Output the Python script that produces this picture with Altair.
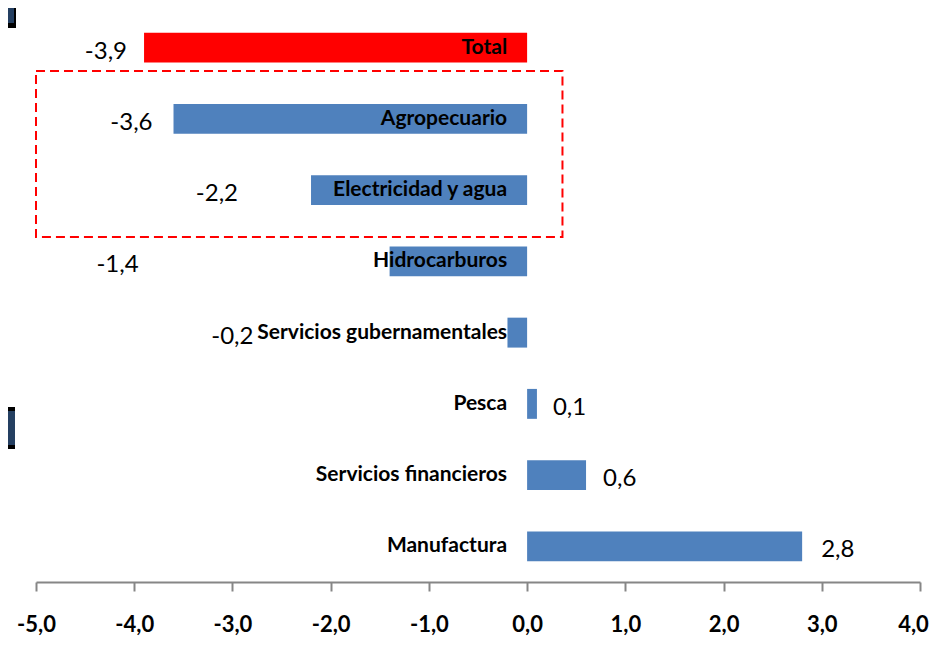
import altair as alt
import pandas as pd

# ---- data ----
categories = ["Total", "Agropecuario", "Electricidad y agua", "Hidrocarburos",
              "Servicios gubernamentales", "Pesca", "Servicios financieros", "Manufactura"]
values = [-3.9, -3.6, -2.2, -1.4, -0.2, 0.1, 0.6, 2.8]
value_labels = ["-3,9", "-3,6", "-2,2", "-1,4", "-0,2", "0,1", "0,6", "2,8"]
x_ticks = [-5, -4, -3, -2, -1, 0, 1, 2, 3, 4]

df = pd.DataFrame({"cat": categories, "value": values, "label": value_labels})
df["grp"] = ["total"] + ["sector"] * (len(categories) - 1)

# ---- styling ----
W, H = 884, 570
XMIN, XMAX = -5, 4
BLUE, RED = "#4F81BD", "#FF0000"
GRAY = "#868686"
CAT_FONT = "Lato, sans-serif"
VAL_FONT = "Lato, sans-serif"
# pixel nudges of the value labels (as placed in the original)
label_dx = [-17, -21, -73, -251, -254, 16, 17, 19]
label_dy = 4

step = H / len(categories)
yscale = alt.Scale(domain=categories, paddingInner=0.58, paddingOuter=0.29)
xscale = alt.Scale(domain=[XMIN, XMAX], nice=False, zero=False)
zero_offset = -(0 - XMIN) / (XMAX - XMIN) * W

base = alt.Chart(df)

bars = base.mark_bar().encode(
    x=alt.X("value:Q", scale=xscale, title=None,
            axis=alt.Axis(values=x_ticks, grid=False, domainColor=GRAY, domainWidth=2,
                          tickColor=GRAY, tickWidth=2, tickSize=9,
                          labelExpr="(datum.value < 0 ? '-' : '') + replace(format(abs(datum.value), '.1f'), '.', ',')",
                          labelFont=CAT_FONT, labelFontWeight="bold", labelFontSize=22,
                          labelColor="black", labelPadding=23, labelFlush=False,
                          labelOverlap=False,
                          labelOffset={"condition": {"test": "datum.value == 4", "value": -7},
                                       "value": 0})),
    x2=alt.datum(0),
    y=alt.Y("cat:N", sort=categories, scale=yscale, title=None,
            axis=alt.Axis(labels=False, grid=False, offset=zero_offset,
                          domainColor=GRAY, domainWidth=2, tickColor=GRAY,
                          tickWidth=2, tickSize=5, tickOffset=-step / 2)),
    color=alt.Color("grp:N", scale=alt.Scale(domain=["total", "sector"], range=[RED, BLUE]),
                    legend=None),
)

cat_text = base.mark_text(align="right", baseline="middle", dx=-20, font=CAT_FONT,
                          fontWeight="bold", fontSize=21, color="black").encode(
    x=alt.datum(0),
    y=alt.Y("cat:N", sort=categories, scale=yscale, axis=None),
    text="cat:N",
)

val_layers = []
for c, v, dx in zip(categories, values, label_dx):
    val_layers.append(
        base.transform_filter(alt.datum.cat == c).mark_text(
            align="right" if v < 0 else "left", baseline="middle", dx=dx, dy=label_dy,
            font=VAL_FONT, fontSize=24, color="black").encode(
            x=alt.X("value:Q", scale=xscale),
            y=alt.Y("cat:N", sort=categories, scale=yscale, axis=None),
            text="label:N",
        )
    )

# red dashed highlight box around Agropecuario / Electricidad y agua
deco = pd.DataFrame({"k": [0]})
box = alt.Chart(deco).mark_rect(fill=None, stroke=RED, strokeWidth=2, strokeDash=[9, 5]).encode(
    x=alt.datum(XMIN, scale=xscale), x2=alt.datum(0.36),
    y=alt.value(59), y2=alt.value(225),
)

# fragments of neighbouring graphics at the left edge
frag = []
for (x0, x1, y0, y1, col) in [(-28, -20, -4, 16, "#000000"), (-28, -22, -4, 11, "#243F61"),
                              (-28, -21, 395, 437, "#000000"), (-28, -21, 399, 433, "#243F61")]:
    frag.append(alt.Chart(deco).mark_rect(color=col).encode(
        x=alt.value(x0), x2=alt.value(x1), y=alt.value(y0), y2=alt.value(y1)))

chart = alt.layer(bars, cat_text, *val_layers, box, *frag).properties(
    width=W, height=H,
    padding={"left": 28, "top": 4, "right": 10, "bottom": 55},
    autosize=alt.AutoSizeParams(type="none"),
).configure_view(stroke=None)

chart.save("out.html", embed_options={"renderer": "svg", "actions": False})
